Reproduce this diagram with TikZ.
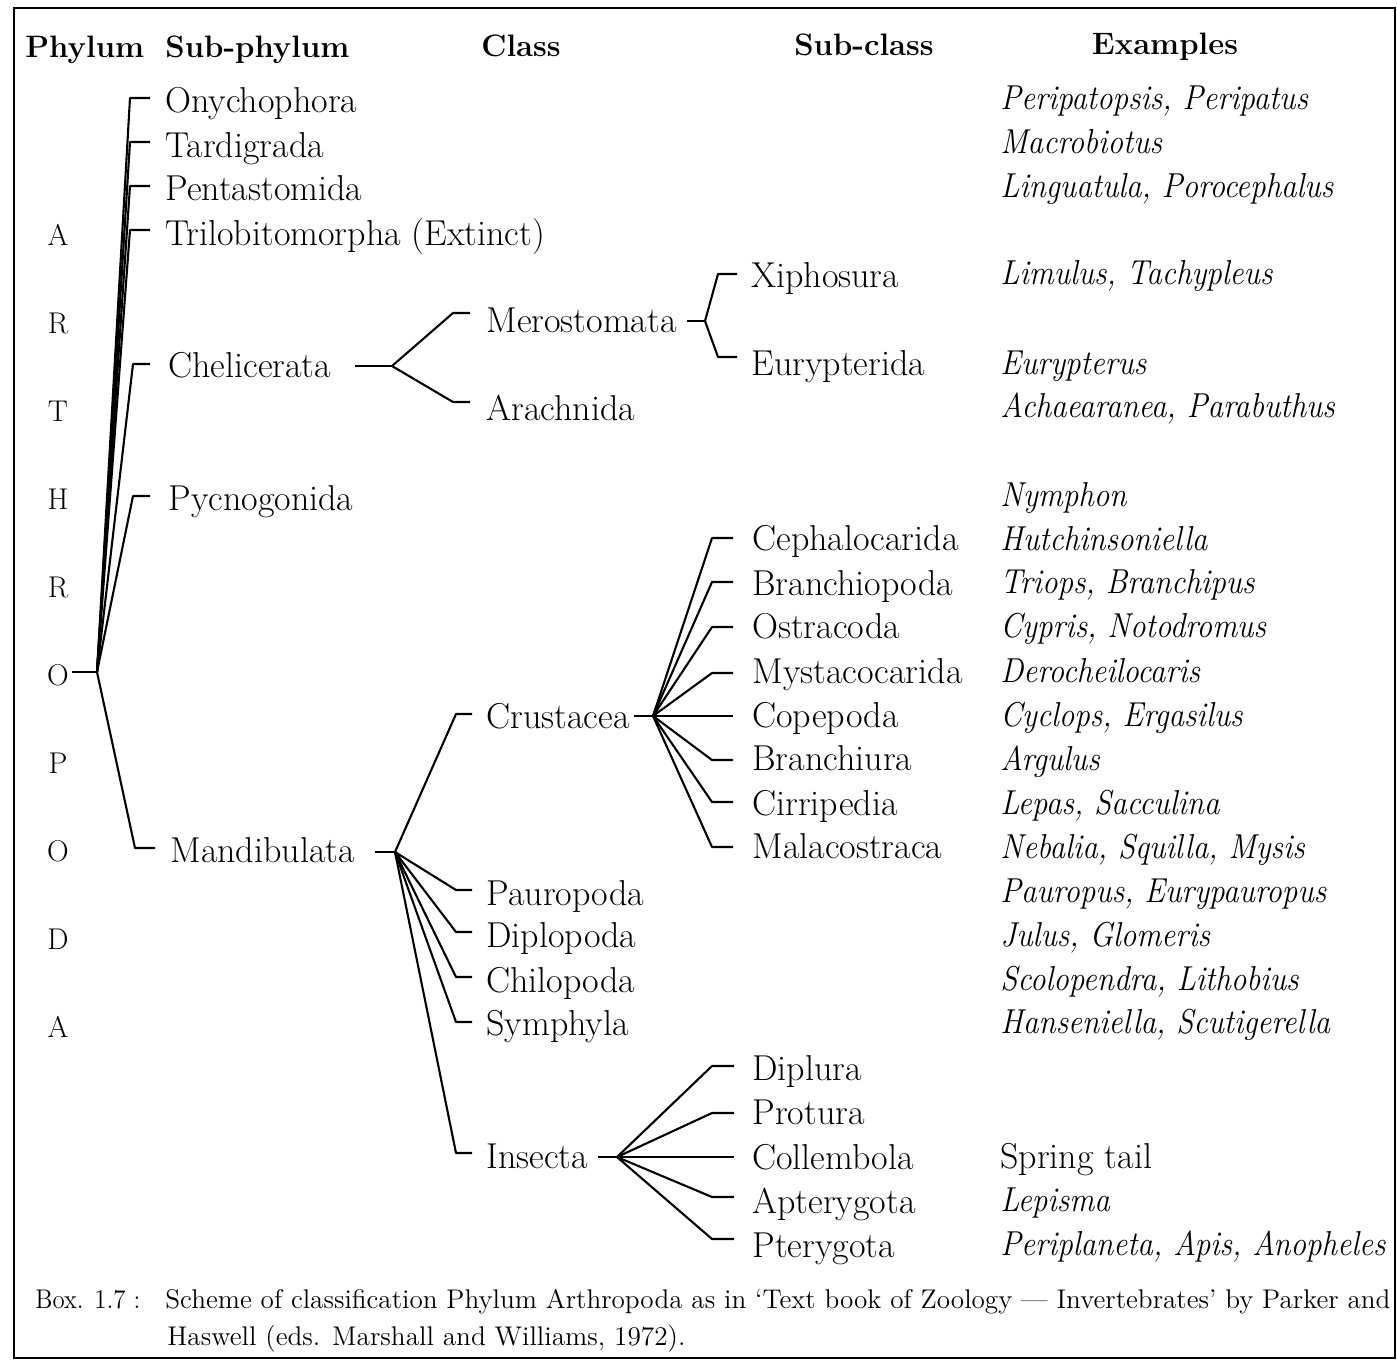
\documentclass[tikz,border=0pt]{standalone}
\usepackage{graphicx}
\newcommand{\exfit}[1]{\scalebox{0.9}[1]{#1}}
\begin{document}
\begin{tikzpicture}[x=0.5pt,y=-0.5pt,
  lbl/.style={anchor=base west,inner sep=0pt,font=\fontsize{18}{21}\selectfont},
  ltr/.style={anchor=base,inner sep=0pt,font=\fontsize{15}{17}\selectfont},
  hdr/.style={anchor=base,inner sep=0pt,font=\fontsize{15.5}{18}\selectfont\bfseries},
  hdrw/.style={anchor=base west,inner sep=0pt,font=\fontsize{15.5}{18}\selectfont\bfseries},
  ex/.style={anchor=base west,inner sep=0pt,font=\fontsize{17.3}{20}\selectfont\itshape},
  captxt/.style={anchor=base west,inner sep=0pt,font=\fontsize{13.5}{15}\selectfont},
  br/.style={line width=1.05pt,line join=round}]
\useasboundingbox (0,0) rectangle (1397,1362);
\draw[line width=1pt] (14,8) rectangle (1395,1358);

% headers
\node[hdrw] (hphy) at (25,57) {Phylum};
\node[hdrw] (hsub) at (165,57) {Sub-phylum};
\node[hdr] (hcls) at (521,56) {Class};
\node[hdr] (hscl) at (864,55) {Sub-class};
\node[hdr] (hexa) at (1165,54) {Examples};

% phylum letters
\node[ltr] (l1) at (58,245) {A};
\node[ltr] (l2) at (58,333) {R};
\node[ltr] (l3) at (58,421) {T};
\node[ltr] (l4) at (58,509) {H};
\node[ltr] (l5) at (58,597) {R};
\node[ltr] (l6) at (58,685) {O};
\node[ltr] (l7) at (58,773) {P};
\node[ltr] (l8) at (58,861) {O};
\node[ltr] (l9) at (58,949) {D};
\node[ltr] (l10) at (58,1037) {A};
\coordinate (root) at (97,672);
\draw[br] (l6.east |- root) ++(3,0) -- (root);

% sub-phyla
\node[lbl] (ony) at (165,112) {Onychophora};
\node[lbl] (tard) at (165,157) {Tardigrada};
\node[lbl] (pent) at (165,200) {Pentastomida};
\node[lbl] (tril) at (165,245) {Trilobitomorpha (Extinct)};
\node[lbl] (chel) at (168,377) {Chelicerata};
\node[lbl] (pycn) at (168,510) {Pycnogonida};
\node[lbl] (mand) at (170,862) {Mandibulata};
\draw[br] ([shift={(-15,-14)}]ony.base west) -- ++(-20,0) -- (root);
\draw[br] ([shift={(-15,-15)}]tard.base west) -- ++(-20,0) -- (root);
\draw[br] ([shift={(-15,-14)}]pent.base west) -- ++(-20,0) -- (root);
\draw[br] ([shift={(-15,-15)}]tril.base west) -- ++(-20,0) -- (root);
\draw[br] ([shift={(-18,-13)}]chel.base west) -- ++(-17,0) -- (root);
\draw[br] ([shift={(-18,-14)}]pycn.base west) -- ++(-17,0) -- (root);
\draw[br] ([shift={(-15,-14)}]mand.base west) -- ++(-20,0) -- (root);

% Chelicerata
\coordinate (cf) at (392,366);
\draw[br] (355,366) -- (cf);
\node[lbl] (mero) at (486,332) {Merostomata};
\node[lbl] (arac) at (486,420) {Arachnida};
\draw[br] ([shift={(-16,-19)}]mero.base west) -- ++(-17,0) -- (cf);
\draw[br] ([shift={(-16,-18)}]arac.base west) -- ++(-17,0) -- (cf);
\coordinate (mf) at (705,321);
\draw[br] (687,321) -- (mf);
\node[lbl] (xiph) at (751,287) {Xiphosura};
\node[lbl] (eury) at (751,375) {Eurypterida};
\draw[br] ([shift={(-14,-13)}]xiph.base west) -- ++(-19,0) -- (mf);
\draw[br] ([shift={(-14,-18)}]eury.base west) -- ++(-19,0) -- (mf);

% Mandibulata
\coordinate (mdf) at (395,852);
\draw[br] (375,852) -- (mdf);
\node[lbl] (crus) at (486,728) {Crustacea};
\node[lbl] (paur) at (486,905) {Pauropoda};
\node[lbl] (dipl) at (486,947) {Diplopoda};
\node[lbl] (chil) at (486,992) {Chilopoda};
\node[lbl] (symp) at (486,1035) {Symphyla};
\node[lbl] (inse) at (486,1168) {Insecta};
\draw[br] ([shift={(-14,-14)}]crus.base west) -- ++(-16,0) -- (mdf);
\draw[br] ([shift={(-14,-15)}]paur.base west) -- ++(-16,0) -- (mdf);
\draw[br] ([shift={(-14,-15)}]dipl.base west) -- ++(-16,0) -- (mdf);
\draw[br] ([shift={(-14,-15)}]chil.base west) -- ++(-16,0) -- (mdf);
\draw[br] ([shift={(-14,-13)}]symp.base west) -- ++(-16,0) -- (mdf);
\draw[br] ([shift={(-14,-15)}]inse.base west) -- ++(-16,0) -- (mdf);

% Crustacea
\coordinate (crf) at (653,716);
\draw[br] (634,716) -- (crf);
\node[lbl] (ceph) at (752,550) {Cephalocarida};
\node[lbl] (bran) at (752,595) {Branchiopoda};
\node[lbl] (ostr) at (752,638) {Ostracoda};
\node[lbl] (myst) at (752,683) {Mystacocarida};
\node[lbl] (cope) at (752,727) {Copepoda};
\node[lbl] (brch) at (752,770) {Branchiura};
\node[lbl] (cirr) at (752,815) {Cirripedia};
\node[lbl] (mala) at (752,858) {Malacostraca};
\draw[br] ([shift={(-19,-12)}]ceph.base west) -- ++(-21,0) -- (crf);
\draw[br] ([shift={(-19,-13)}]bran.base west) -- ++(-21,0) -- (crf);
\draw[br] ([shift={(-19,-11)}]ostr.base west) -- ++(-21,0) -- (crf);
\draw[br] ([shift={(-19,-10)}]myst.base west) -- ++(-21,0) -- (crf);
\draw[br] ([shift={(-19,-11)}]cope.base west) -- (crf);
\draw[br] ([shift={(-19,-10)}]brch.base west) -- ++(-21,0) -- (crf);
\draw[br] ([shift={(-19,-13)}]cirr.base west) -- ++(-21,0) -- (crf);
\draw[br] ([shift={(-19,-11)}]mala.base west) -- ++(-21,0) -- (crf);

% Insecta
\coordinate (inf) at (617,1157);
\draw[br] (598,1157) -- (inf);
\node[lbl] (dipu) at (752,1080) {Diplura};
\node[lbl] (prot) at (752,1124) {Protura};
\node[lbl] (coll) at (752,1169) {Collembola};
\node[lbl] (apte) at (752,1213) {Apterygota};
\node[lbl] (pter) at (752,1257) {Pterygota};
\draw[br] ([shift={(-18,-14)}]dipu.base west) -- ++(-22,0) -- (inf);
\draw[br] ([shift={(-18,-11)}]prot.base west) -- ++(-22,0) -- (inf);
\draw[br] ([shift={(-18,-12)}]coll.base west) -- (inf);
\draw[br] ([shift={(-18,-16)}]apte.base west) -- ++(-22,0) -- (inf);
\draw[br] ([shift={(-18,-18)}]pter.base west) -- ++(-22,0) -- (inf);

% examples
\node[ex] (e1) at (1000,109) {\exfit{Peripatopsis, Peripatus}};
\node[ex] (e2) at (1000,153) {\exfit{Macrobiotus}};
\node[ex] (e3) at (1000,197) {\exfit{Linguatula, Porocephalus}};
\node[ex] (e4) at (1000,284) {\exfit{Limulus, Tachypleus}};
\node[ex] (e5) at (1000,374) {\exfit{Eurypterus}};
\node[ex] (e6) at (1000,417) {\exfit{Achaearanea, Parabuthus}};
\node[ex] (e7) at (1000,506) {\exfit{Nymphon}};
\node[ex] (e8) at (1000,550) {\exfit{Hutchinsoniella}};
\node[ex] (e9) at (1000,593) {\exfit{Triops, Branchipus}};
\node[ex] (e10) at (1000,637) {\exfit{Cypris, Notodromus}};
\node[ex] (e11) at (1000,682) {\exfit{Derocheilocaris}};
\node[ex] (e12) at (1000,726) {\exfit{Cyclops, Ergasilus}};
\node[ex] (e13) at (1000,770) {\exfit{Argulus}};
\node[ex] (e14) at (1000,814) {\exfit{Lepas, Sacculina}};
\node[ex] (e15) at (1000,858) {\exfit{Nebalia, Squilla, Mysis}};
\node[ex] (e16) at (1000,902) {\exfit{Pauropus, Eurypauropus}};
\node[ex] (e17) at (1000,946) {\exfit{Julus, Glomeris}};
\node[ex] (e18) at (1000,990) {\exfit{Scolopendra, Lithobius}};
\node[ex] (e19) at (1000,1033) {\exfit{Hanseniella, Scutigerella}};
\node[lbl] (e20) at (1000,1168) {Spring tail};
\node[ex] (e21) at (1000,1211) {\exfit{Lepisma}};
\node[ex] (e22) at (1000,1255) {\exfit{Periplaneta, Apis, Anopheles}};

% caption
\node[captxt] (cbox) at (35,1308) {\resizebox{52.5pt}{\height}{Box. 1.7 :}};
\node[captxt] (cl1) at (165,1308) {\resizebox{612.5pt}{\height}{Scheme of classification Phylum Arthropoda as in `Text book of Zoology --- Invertebrates' by Parker and}};
\node[captxt] (cl2) at (167,1345) {\resizebox{259pt}{\height}{Haswell (eds. Marshall and Williams, 1972).}};
\end{tikzpicture}
\end{document}
